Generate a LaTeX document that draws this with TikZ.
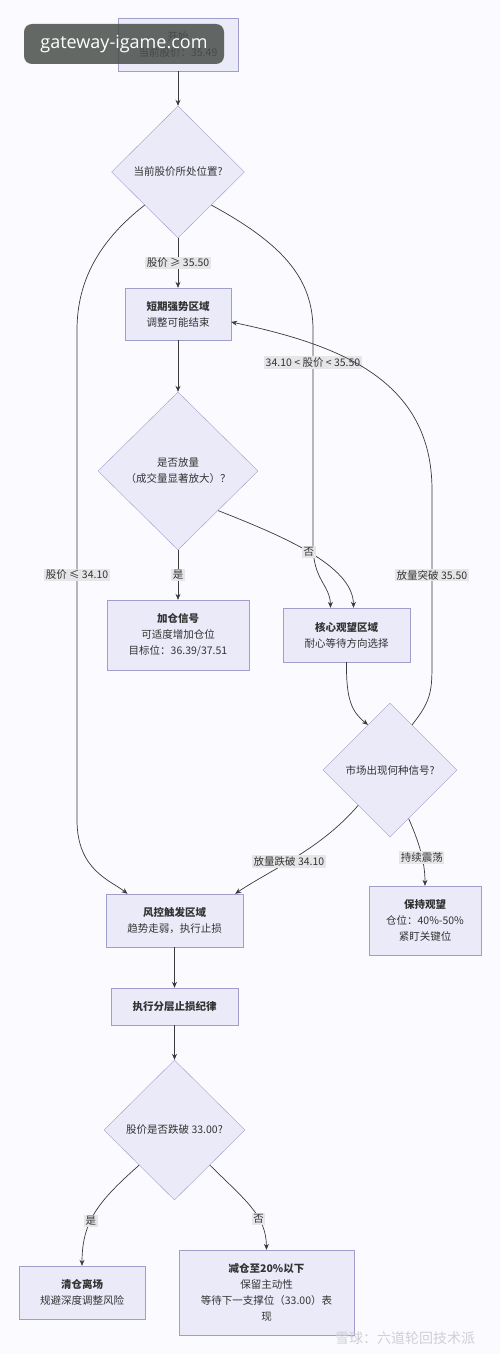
\documentclass[tikz,border=0pt]{standalone}
\usepackage{fontspec}
\setmainfont{Noto Sans CJK SC}
\newfontfamily\wmfont{Open Sans}
\usetikzlibrary{shapes.geometric,arrows.meta}
\definecolor{bgcol}{HTML}{FBFAFE}
\definecolor{boxfill}{HTML}{EAEAF9}
\definecolor{boxline}{HTML}{A29ECC}
\definecolor{linkgray}{HTML}{3A3A3A}
\definecolor{labelgray}{HTML}{E6E6E8}
\definecolor{textgray}{HTML}{333333}
\definecolor{wmdark}{HTML}{4A4F4A}
\definecolor{wmlight}{HTML}{CFCFD8}

\begin{document}
\begin{tikzpicture}[
  x=1pt, y=-1pt,
  box/.style={rectangle, draw=boxline, fill=boxfill, align=center, inner sep=2pt,
    text=textgray, font=\fontsize{10.5}{16}\selectfont},
  ask/.style={diamond, draw=boxline, fill=boxfill, align=center, inner sep=0pt,
    text=textgray, font=\fontsize{10.5}{16}\selectfont},
  link/.style={draw=linkgray, line width=0.7pt, -{Stealth[length=6pt,width=5pt]}},
  elabel/.style={fill=labelgray, inner sep=1.5pt, text=textgray,
    font=\fontsize{10.5}{12}\selectfont}
]
  \fill[bgcol] (0,0) rectangle (500,1354);
  \useasboundingbox (0,0) rectangle (500,1354);

  % nodes
  \node[box, minimum width=120pt, minimum height=53pt] (start) at (178,44.5) {开始\\当前股价：35.49};
  \node[ask, minimum width=133pt, minimum height=132pt] (q1) at (178,172) {当前股价所处位置?};
  \node[box, minimum width=106pt, minimum height=52pt] (strong) at (178,314) {\textbf{短期强势区域}\\调整可能结束};
  \node[ask, minimum width=160pt, minimum height=158pt] (q2) at (178,471) {是否放量\\（成交量显著放大）？};
  \node[box, minimum width=142pt, minimum height=70pt] (add) at (178,635) {\textbf{加仓信号}\\可适度增加仓位\\目标位：36.39/37.51};
  \node[box, minimum width=127pt, minimum height=54pt] (watch) at (346.5,635) {\textbf{核心观望区域}\\耐心等待方向选择};
  \node[ask, minimum width=134pt, minimum height=134pt] (q3) at (390,770) {市场出现何种信号?};
  \node[box, minimum width=112pt, minimum height=69pt] (hold) at (425,920.5) {\textbf{保持观望}\\仓位：40\%-50\%\\紧盯关键位};
  \node[box, minimum width=137pt, minimum height=53pt] (risk) at (174.5,920.5) {\textbf{风控触发区域}\\趋势走弱，执行止损};
  \node[box, minimum width=127pt, minimum height=37pt] (rule) at (174.5,1006.5) {\textbf{执行分层止损纪律}};
  \node[ask, minimum width=141pt, minimum height=140pt] (q4) at (174.5,1130) {股价是否跌破 33.00?};
  \node[box, minimum width=126pt, minimum height=53pt] (clear) at (82,1292.5) {\textbf{清仓离场}\\规避深度调整风险};
  \node[box, minimum width=175pt, minimum height=85pt] (cut) at (266.5,1292.5) {\textbf{减仓至20\%以下}\\保留主动性\\等待下一支撑位（33.00）表\\现};

  % connectors
  \draw[link] (start) -- (q1);
  \draw[link] (q1) -- node[elabel] {股价 ≥ 35.50} (strong);
  \draw[link] (q1.south west) .. controls (100,240) and (77,280) .. (77,330)
    -- node[elabel] {股价 ≤ 34.10} (77,820)
    .. controls (77,870) and (110,880) .. ([xshift=-47pt]risk.north);
  \draw[link] (q1.south east) .. controls (285,245) and (313,280) .. (313,330)
    -- node[elabel, pos=0.15] {34.10 < 股价 < 35.50} (313,545)
    .. controls (313,580) and (330,585) .. ([xshift=-16pt]watch.north);
  \draw[link] (strong) -- (q2);
  \draw[link] (q2) -- node[elabel] {是} (add);
  \draw[link] (q2.south east) .. controls (280,535) and (353,565) .. node[elabel] {否} ([xshift=7pt]watch.north);
  \draw[link] (watch.south) .. controls (346,700) and (352,712) .. (q3.116);
  \draw[link] (q3.64) .. controls (432,700) and (432,690) .. (432,660)
    -- node[elabel] {放量突破 35.50} (432,490)
    .. controls (432,380) and (340,345) .. ([yshift=-8pt]strong.east);
  \draw[link] (q3.-132) .. controls (320,850) and (270,870) .. node[elabel, pos=0.55] {放量跌破 34.10} ([xshift=-8pt]risk.north east);
  \draw[link] (q3.-69) .. controls (418,840) and (425,860) .. node[elabel, pos=0.6] {持续震荡} (hold.north);
  \draw[link] (risk) -- (rule);
  \draw[link] (rule) -- (q4);
  \draw[link] (q4.south west) .. controls (100,1200) and (82,1220) .. node[elabel, pos=0.6] {是} (clear.north);
  \draw[link] (q4.south east) .. controls (245,1200) and (266,1215) .. node[elabel, pos=0.65] {否} (cut.north);

  % watermarks
  \node[fill=wmdark, fill opacity=0.85, text opacity=1, text=white, rounded corners=8pt,
    minimum width=200pt, minimum height=40pt, font=\wmfont\fontsize{18}{20}\selectfont] (wm) at (124,44) {gateway-igame.com};
  \node[text=wmlight, font=\fontsize{14}{16}\selectfont] (wm2) at (405,1338) {雪球：六道轮回技术派};
\end{tikzpicture}
\end{document}
